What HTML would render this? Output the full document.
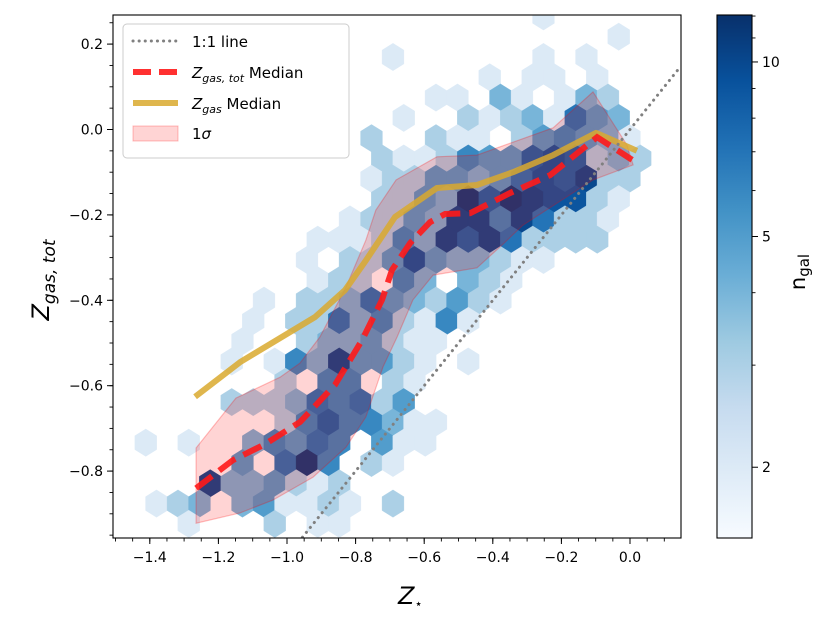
<!DOCTYPE html>
<html><head><meta charset="utf-8">
<style>
html,body{margin:0;padding:0;background:#fff;width:830px;height:625px;overflow:hidden;}
svg{display:block;font-family:"DejaVu Sans","Liberation Sans",sans-serif;}
</style></head>
<body>
<svg id="chart" width="830" height="625" viewBox="0 0 830 625" xmlns="http://www.w3.org/2000/svg">
<defs>
<clipPath id="plotclip"><rect x="113" y="15" width="568" height="523"/></clipPath>
<linearGradient id="cbgrad" x1="0" y1="1" x2="0" y2="0">
<stop offset="0" stop-color="#f7fbff"/><stop offset="0.125" stop-color="#deebf7"/>
<stop offset="0.25" stop-color="#c6dbef"/><stop offset="0.375" stop-color="#9ecae1"/>
<stop offset="0.5" stop-color="#6baed6"/><stop offset="0.625" stop-color="#4292c6"/>
<stop offset="0.75" stop-color="#2171b5"/><stop offset="0.875" stop-color="#08519c"/>
<stop offset="1" stop-color="#08306b"/>
</linearGradient>
</defs>
<g id="hexes" clip-path="url(#plotclip)"></g>
<g id="overlay" clip-path="url(#plotclip)"></g>
<rect x="113" y="15" width="568" height="523" fill="none" stroke="#000" stroke-width="1.1"/>
<g id="axes"></g>
<g id="legend">
<rect x="123" y="24" width="226" height="134" rx="4" fill="#fff" fill-opacity="0.85" stroke="#cccccc"/>
<g>
<line x1="133" y1="41" x2="178" y2="41" stroke="#808080" stroke-width="3" stroke-dasharray="0.1 6" stroke-linecap="round"/>
<text x="192" y="47" font-size="15">1:1 line</text></g>
<g>
<line x1="133" y1="72" x2="178" y2="72" stroke="#ff1a1a" stroke-opacity="0.9" stroke-width="6" stroke-dasharray="18 8"/>
<text x="192" y="78" font-size="15"><tspan font-style="italic">Z</tspan><tspan font-size="11" dy="4" font-style="italic">gas, tot</tspan><tspan dy="-4"> Median</tspan></text></g>
<g>
<line x1="133" y1="103" x2="178" y2="103" stroke="#d9a92e" stroke-opacity="0.85" stroke-width="6"/>
<text x="192" y="109" font-size="15"><tspan font-style="italic">Z</tspan><tspan font-size="11" dy="4" font-style="italic">gas</tspan><tspan dy="-4"> Median</tspan></text></g>
<g>
<rect x="133" y="126" width="45" height="15" fill="rgba(255,0,0,0.17)" stroke="rgba(255,0,0,0.25)"/>
<text x="192" y="139" font-size="15">1<tspan font-style="italic">σ</tspan></text></g>
</g>
<g id="cbar">
<rect x="717" y="15" width="35" height="523" fill="url(#cbgrad)" stroke="#000" stroke-width="1.1"/>
</g>
<text x="398" y="604" font-size="24" font-style="italic">Z<tspan font-size="13" dy="4" font-style="normal">⋆</tspan></text>
<text transform="translate(49,280) rotate(-90)" text-anchor="middle" font-size="24"><tspan font-style="italic">Z</tspan><tspan font-size="17" dy="6" font-style="italic">gas, tot</tspan></text>
<text transform="translate(805,272) rotate(-90)" text-anchor="middle" font-size="21">n<tspan font-size="15" dy="4">gal</tspan></text>
</svg>
<script>
// ---- data ----
const xTicks = [-1.4,-1.2,-1.0,-0.8,-0.6,-0.4,-0.2,0.0];
const xTickLabels = ["−1.4","−1.2","−1.0","−0.8","−0.6","−0.4","−0.2","0.0"];
const yTicks = [0.2,0.0,-0.2,-0.4,-0.6,-0.8];
const yTickLabels = ["0.2","0.0","−0.2","−0.4","−0.6","−0.8"];
const cbTicks = [2,5,10];
const cbMinorTicks = [3,4,6,7,8,9,11,12];
// hexbin grid (data units)
const hexX0 = -0.691, hexDX = 0.03134, hexY0 = 0.1698, hexDY = -0.04754;
const hexRow = [-2,-1,0,0,0,1,1,1,1,2,2,2,2,2,2,2,3,3,3,3,3,3,3,3,3,4,4,4,4,4,4,4,4,4,4,5,5,5,5,5,5,5,5,5,5,5,5,5,6,6,6,6,6,6,6,6,6,6,6,6,6,7,7,7,7,7,7,7,7,7,7,7,7,8,8,8,8,8,8,8,8,8,8,8,8,8,9,9,9,9,9,9,9,9,9,9,9,9,9,9,10,10,10,10,10,10,10,10,10,10,10,11,11,11,11,11,11,11,11,12,12,12,12,12,12,12,12,12,12,12,13,13,13,13,13,13,13,13,13,13,14,14,14,14,14,14,14,14,15,15,15,15,15,15,15,15,15,15,16,16,16,16,16,17,17,17,17,17,17,17,17,17,18,18,18,18,18,18,18,18,19,19,19,19,19,19,19,19,19,19,20,20,20,20,20,20,21,21,21,21,21,21,21,22,22,22,22,22,22,22,22,22,22,23,23,23,23];
const hexCol = [14,21,0,14,18,9,13,15,19,4,6,10,12,16,18,20,1,7,9,11,13,15,17,19,21,-2,4,6,8,12,14,16,18,20,22,-1,1,3,5,7,9,11,13,15,17,19,21,23,-2,0,2,4,6,8,10,12,14,16,18,20,22,-1,1,3,5,7,9,11,13,15,17,19,21,-4,-2,0,2,4,6,8,10,12,14,16,18,20,-7,-5,-3,-1,1,3,5,7,9,11,13,15,17,19,-8,-4,-2,0,2,4,6,8,10,12,14,-7,-5,-3,1,3,7,9,11,-12,-8,-6,-4,-2,0,2,4,6,8,10,-13,-9,-7,-5,-3,-1,1,3,5,7,-14,-8,-6,-4,-2,0,2,4,-15,-11,-9,-7,-5,-3,-1,1,3,7,-10,-6,-4,0,2,-15,-13,-11,-9,-7,-5,-3,-1,1,-10,-8,-6,-4,-2,0,2,4,-23,-19,-13,-11,-9,-7,-5,-1,1,3,-14,-10,-8,-6,-2,0,-17,-15,-13,-11,-9,-7,-5,-22,-20,-18,-14,-12,-10,-8,-6,-4,0,-19,-11,-7,-5];
const hexCount = [2,2,2,2,2,2,2,2,2,2,2,4,2,2,4,3,2,3,2,3,4,2,7,5,4,3,3,2,2,3,5,6,5,4,2,3,2,2,3,6,5,5,8,9,8,3,4,3,2,3,3,5,5,4,5,7,9,8,10,3,3,3,3,5,4,11,8,11,10,9,9,3,2,2,3,3,5,4,10,10,6,10,7,3,3,2,2,2,2,3,6,4,10,8,10,7,3,3,3,3,2,3,3,5,9,5,4,4,3,2,2,2,3,3,6,4,4,3,2,2,3,3,4,7,5,4,3,5,3,2,2,3,3,7,4,6,3,2,6,2,2,3,4,4,5,3,2,2,2,2,6,4,10,5,5,3,2,2,3,6,6,3,2,3,3,3,4,7,6,7,3,5,3,6,8,6,6,4,2,2,2,2,4,6,5,7,6,5,2,2,5,7,11,6,3,2,10,4,4,5,3,2,3,2,3,4,4,5,2,2,3,2,3,2,3,2,2];
const cbMin = 1.51, cbMax = 12.05;
// medians
const medTotX = [-1.265,-1.157,-1.064,-0.962,-0.860,-0.781,-0.723,-0.694,-0.641,-0.583,-0.539,-0.466,-0.350,-0.233,-0.096,0.006];
const medTotY = [-0.840,-0.774,-0.737,-0.685,-0.598,-0.493,-0.399,-0.329,-0.266,-0.217,-0.198,-0.196,-0.149,-0.107,-0.018,-0.071];
const medGasX = [-1.268,-1.137,-0.918,-0.831,-0.773,-0.685,-0.563,-0.446,-0.341,-0.224,-0.099,0.020];
const medGasY = [-0.626,-0.545,-0.439,-0.376,-0.310,-0.205,-0.137,-0.130,-0.100,-0.060,-0.008,-0.050];
// 1-sigma band
const sigUpX = [-1.265,-1.149,-1.020,-0.962,-0.904,-0.828,-0.770,-0.741,-0.682,-0.563,-0.446,-0.224,-0.108,-0.009,0.009];
const sigUpY = [-0.746,-0.629,-0.580,-0.547,-0.486,-0.369,-0.259,-0.189,-0.118,-0.064,-0.060,0.004,0.088,-0.036,-0.083];
const sigLoX = [0.009,-0.108,-0.312,-0.379,-0.446,-0.574,-0.633,-0.679,-0.720,-0.770,-0.828,-0.924,-1.041,-1.137,-1.265];
const sigLoY = [-0.083,-0.118,-0.224,-0.275,-0.324,-0.341,-0.399,-0.486,-0.556,-0.673,-0.744,-0.814,-0.868,-0.898,-0.922];
const oneToOne = [-0.955,0.148];

// ---- scales ----
const X = v => 630 + 343*v;
const Y = v => 129.5 - 427*v;
const CB = n => 15 + (Math.log(cbMax)-Math.log(n))/(Math.log(cbMax)-Math.log(cbMin))*523;
const NS = "http://www.w3.org/2000/svg";
function mk(tag, attrs, parent){const e=document.createElementNS(NS,tag);for(const k in attrs)e.setAttribute(k,attrs[k]);parent.appendChild(e);return e;}
const stops=[[247,251,255],[222,235,247],[198,219,239],[158,202,225],[107,174,214],[66,146,198],[33,113,181],[8,81,156],[8,48,107]];
function blues(t){t=Math.max(0,Math.min(1,t));const p=t*8,i=Math.min(7,Math.floor(p)),f=p-i;const a=stops[i],b=stops[i+1];return `rgb(${[0,1,2].map(j=>Math.round(a[j]+(b[j]-a[j])*f)).join(",")})`;}
function normLog(n){return Math.log(n/cbMin)/Math.log(cbMax/cbMin);}

// ---- hexes ----
const hg=document.getElementById('hexes');
const hw=10.9, hh=13.7, hs=6.9;
for(let i=0;i<hexCount.length;i++){
  const cx=X(hexX0+hexDX*hexCol[i]), cy=Y(hexY0+hexDY*hexRow[i]);
  const pts=[[0,-hh],[hw,-hs],[hw,hs],[0,hh],[-hw,hs],[-hw,-hs]].map(p=>(cx+p[0]).toFixed(2)+","+Math.min(538,Math.max(15,cy+p[1])).toFixed(2)).join(" ");
  const c=blues(normLog(hexCount[i]));
  const h=mk('polygon',{points:pts,fill:c,stroke:c,'stroke-width':0.4},hg);
  
  
}

// ---- overlay ----
const ov=document.getElementById('overlay');
let bandPts=[];
for(let i=0;i<sigUpX.length;i++)bandPts.push(X(sigUpX[i]).toFixed(1)+","+Y(sigUpY[i]).toFixed(1));
for(let i=0;i<sigLoX.length;i++)bandPts.push(X(sigLoX[i]).toFixed(1)+","+Y(sigLoY[i]).toFixed(1));
const band=mk('polygon',{points:bandPts.join(" "),fill:"rgba(255,0,0,0.17)",stroke:"rgba(255,0,0,0.25)","stroke-width":1.2},ov);



const gasPts=medGasX.map((x,i)=>X(x).toFixed(1)+","+Y(medGasY[i]).toFixed(1)).join(" ");
const gl=mk('polyline',{points:gasPts,fill:"none",stroke:"#d9a92e","stroke-opacity":0.85,"stroke-width":6,"stroke-linejoin":"round"},ov);



const totPts=medTotX.map((x,i)=>X(x).toFixed(1)+","+Y(medTotY[i]).toFixed(1)).join(" ");
const tl=mk('polyline',{points:totPts,fill:"none",stroke:"#ff1a1a","stroke-opacity":0.9,"stroke-width":6,"stroke-dasharray":"20 9"},ov);



const ol=mk('line',{x1:X(oneToOne[0]),y1:Y(oneToOne[0]),x2:X(oneToOne[1]),y2:Y(oneToOne[1]),stroke:"#808080","stroke-width":3,"stroke-dasharray":"0.1 6.2","stroke-linecap":"round"},ov);



// ---- axes ----
const ax=document.getElementById('axes');
for(let v=-1.5;v<=0.15;v+=0.05){const px=X(v);if(px<113||px>681)continue;const m=mk('line',{x1:px,y1:538,x2:px,y2:541.5,stroke:"#000","stroke-width":0.9},ax);}
for(let v=-0.95;v<=0.27;v+=0.05){const py=Y(v);if(py<15||py>538)continue;const m=mk('line',{x1:109.5,y1:py,x2:113,y2:py,stroke:"#000","stroke-width":0.9},ax);}
xTicks.forEach((v,i)=>{const px=X(v);
  const t=mk('line',{x1:px,y1:538,x2:px,y2:544,stroke:"#000","stroke-width":1},ax);
  const l=mk('text',{x:px,y:562,"text-anchor":"middle","font-size":14},ax);l.textContent=xTickLabels[i];});
yTicks.forEach((v,i)=>{const py=Y(v);
  const t=mk('line',{x1:107,y1:py,x2:113,y2:py,stroke:"#000","stroke-width":1},ax);
  const l=mk('text',{x:103,y:py+5,"text-anchor":"end","font-size":14},ax);l.textContent=yTickLabels[i];});
const cb=document.getElementById('cbar');
cbMinorTicks.forEach(n=>{const py=CB(n);const t=mk('line',{x1:752,y1:py,x2:755.5,y2:py,stroke:"#000","stroke-width":0.9},cb);});
cbTicks.forEach(n=>{const py=CB(n);
  const t=mk('line',{x1:752,y1:py,x2:758,y2:py,stroke:"#000","stroke-width":1},cb);
  const l=mk('text',{x:762,y:py+5,"font-size":14},cb);l.textContent=String(n);});
</script>
</body></html>
